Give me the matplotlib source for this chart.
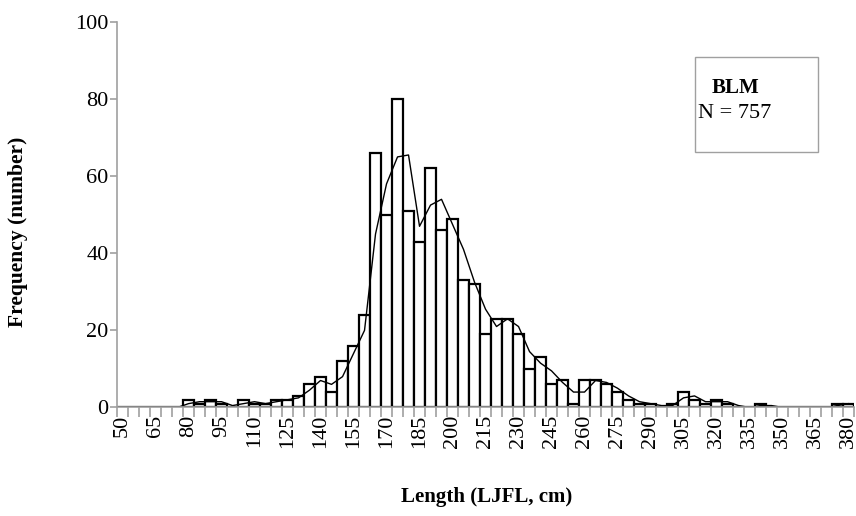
import matplotlib.pyplot as plt
import numpy as np
import pandas as pd

plt.rcParams.update({'font.family': 'Liberation Serif', 'font.size': 16})

# length classes (LJFL, cm) and counts
lengths = list(range(50, 385, 5))
counts = [0, 0, 0, 0, 0, 0, 2, 1, 2, 1,      # 50-95
          0, 2, 1, 1, 2, 2, 3, 6, 8, 4,      # 100-145
          12, 16, 24, 66, 50, 80, 51, 43, 62, 46,   # 150-195
          49, 33, 32, 19, 23, 23, 19, 10, 13, 6,    # 200-245
          7, 1, 7, 7, 6, 4, 2, 1, 1, 0,      # 250-295
          1, 4, 2, 1, 2, 1, 0, 0, 1, 0,      # 300-345
          0, 0, 0, 0, 0, 1, 1]               # 350-380
label_text = 'BLM'
n_text = 'N = 757'

x = np.arange(len(lengths))
# two-period moving average trendline
trend = pd.Series(counts).rolling(2).mean()

fig = plt.figure(figsize=(8.56, 5.16), dpi=100)
ax = fig.add_axes([0.1367, 0.2103, 0.8610, 0.7471])

ax.bar(x, counts, width=1.0, color='white', edgecolor='black', linewidth=1.6)
ax.plot(x, trend, color='black', linewidth=1.0)

ax.set_xlim(-0.5, len(lengths) - 0.5)
ax.set_ylim(0, 100)
ax.set_yticks(np.arange(0, 101, 20))

ax.set_xticks(x[::3])
ax.set_xticklabels([str(v) for v in lengths[::3]], rotation=90)
ax.set_xticks(np.arange(len(lengths) + 1) - 0.5, minor=True)
ax.tick_params(axis='x', which='major', length=0, pad=5)
ax.tick_params(axis='x', which='minor', length=7, color='#a0a0a0', width=1.2)
ax.tick_params(axis='y', length=5, color='#a0a0a0', width=1.2, pad=1)

for side in ['top', 'right']:
    ax.spines[side].set_visible(False)
for side in ['left', 'bottom']:
    ax.spines[side].set_color('#a0a0a0')
    ax.spines[side].set_linewidth(1.2)

fig.text(18 / 856, 1 - 232 / 516, 'Frequency (number)', fontweight='bold',
         rotation=90, ha='center', va='center', fontsize=15.5)
fig.text(487 / 856, 1 - 497 / 516, 'Length (LJFL, cm)', fontweight='bold',
         ha='center', va='center', fontsize=15)

# annotation box
box = plt.Rectangle((695 / 856, 1 - 152 / 516), 123 / 856, 95 / 516,
                    transform=fig.transFigure, facecolor='white',
                    edgecolor='#a0a0a0', linewidth=1.0)
fig.add_artist(box)
fig.text(712 / 856, 1 - 88 / 516, label_text, fontweight='bold', va='center',
         fontsize=15)
fig.text(698 / 856, 1 - 114 / 516, n_text, va='center', fontsize=16)

fig.savefig('out.png', dpi=100)
